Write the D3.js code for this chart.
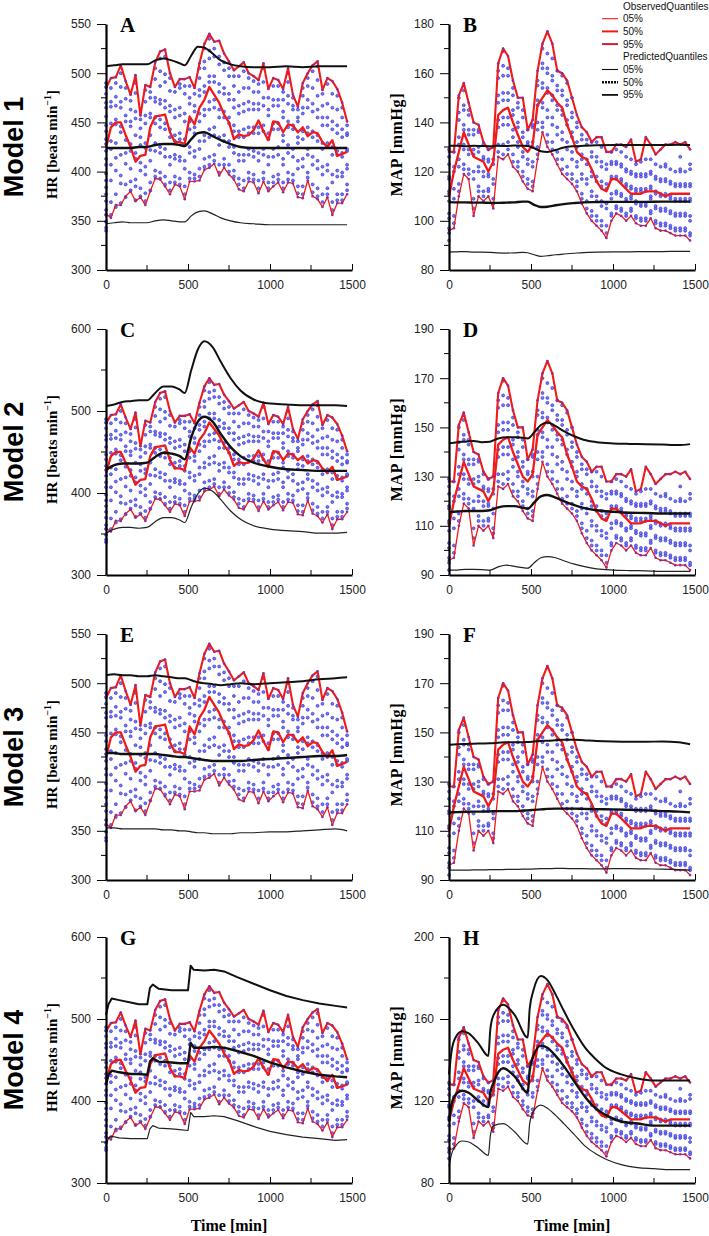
<!DOCTYPE html>
<html><head><meta charset="utf-8">
<script src="https://cdn.jsdelivr.net/npm/d3@7"></script>
<style>body{margin:0;background:#fff}svg{display:block}</style>
</head><body>
<script>
// ---------- DATA ----------
const obsTimes = [0,30,60,90,120,150,180,210,240,270,300,330,360,390,420,450,480,510,540,570,600,630,660,690,720,750,780,810,840,870,900,930,960,990,1020,1050,1080,1110,1140,1170,1200,1230,1260,1290,1320,1350,1380,1410,1440,1470];

const hrObs05 = [357,353,366,366,375,380,370,374,366,380,393,392,385,377,387,385,372,390,390,391,402,404,408,396,404,397,392,382,380,390,389,378,390,380,385,389,379,389,388,374,373,391,375,372,364,374,356,368,368,377];
const hrObs50 = [424,445,450,450,437,425,410,416,417,445,456,457,458,440,430,430,428,456,448,465,473,486,478,470,458,450,433,438,436,437,442,452,441,432,451,450,440,448,447,440,445,436,440,439,430,425,432,416,418,420];
const hrObs95 = [485,495,496,508,492,478,498,457,488,486,511,522,524,500,486,494,494,496,485,510,530,540,532,533,520,512,503,507,511,500,497,493,510,484,495,493,484,505,478,466,490,500,508,512,483,495,492,484,470,451];

const mapObs05 = [96,97,110,119,117,102,110,108,110,105,126,125,127,122,120,116,113,112,125,136,130,127,123,119,117,115,112,107,103,100,98,96,93,100,103,102,100,102,99,98,98,101,97,96,96,95,94,94,94,92];
const mapObs50 = [110,120,128,136,131,126,125,124,120,124,143,145,146,140,135,130,128,131,147,150,153,151,148,146,139,134,128,126,125,121,116,113,112,117,117,115,113,111,111,111,112,112,112,111,110,111,111,111,111,111];
const mapObs95 = [128,128,151,156,148,140,139,132,129,130,164,170,167,157,150,150,137,141,161,172,177,172,161,160,157,150,143,138,136,132,134,134,128,128,131,131,130,133,124,125,134,131,127,129,131,131,132,131,132,129];

const hrDots = [
 [340,343,349,356,361,370,377,384,391,398,407,413,421,428,433,441,447,456,465,470,479,486,490],
 [356,369,391,407,423,431,449,466,471,485],
 [364,377,401,414,429,448,453,467,476,490],
 [368,388,396,417,440,446,465,471,486,500],
 [374,387,408,419,432,451,457,474,485],
 [381,390,403,421,428,446,451,463,472],
 [371,385,392,413,419,437,454,461,480,490],
 [375,383,401,409,427,435,444,453],
 [370,378,397,405,424,429,449,457,471,483],
 [381,389,411,422,437,455,459,475,481],
 [395,401,421,429,449,455,471,475,494,505],
 [393,399,419,425,445,453,469,473,487,502,515],
 [387,395,415,423,443,449,465,472,491,499,517],
 [381,389,407,415,435,443,461,467,482,495],
 [389,395,413,417,431,437,455,463,481],
 [387,393,411,415,433,439,457,465,485,489],
 [377,385,403,411,427,433,451,459,479,487],
 [393,399,419,425,443,451,469,475,487],
 [393,397,415,421,439,445,461,467,479],
 [395,403,423,431,451,459,477,483,495,505],
 [405,413,431,437,457,463,481,487,505,512,525],
 [407,415,435,443,463,471,491,497,515,523,535],
 [411,417,437,445,465,473,491,497,517,525],
 [399,407,427,435,455,463,481,489,509,517],
 [407,413,431,437,455,461,479,485,503,511],
 [400,407,425,431,449,455,473,479,497,505],
 [395,401,419,425,441,447,465,473,487,497],
 [387,393,411,417,435,441,459,467,481,497],
 [383,391,411,417,435,443,461,469,485,502],
 [393,399,417,423,439,445,463,471,485,495],
 [392,397,415,421,439,445,463,469,481,492],
 [383,391,411,419,439,445,463,469,481,489],
 [393,399,417,423,441,447,467,475,491,505],
 [383,389,407,415,433,439,457,463,475],
 [389,395,415,423,443,449,467,473,487],
 [392,397,417,425,443,449,467,473,487],
 [383,389,407,413,431,437,455,461,473,481],
 [392,399,419,427,445,451,469,477,491,500],
 [391,397,415,423,443,447,463,467,475],
 [378,385,403,411,429,435,451,455,463],
 [377,385,405,413,433,441,459,465,477,485],
 [394,399,417,423,439,445,465,473,487,495],
 [379,387,407,415,435,441,461,469,485,502],
 [375,383,403,411,431,437,455,463,477,493,507],
 [369,377,397,405,423,429,447,455,467,479],
 [377,383,401,407,425,429,447,455,469,489],
 [361,369,389,397,417,425,443,451,465,479],
 [371,377,395,401,417,421,439,447,463,477],
 [371,377,395,399,415,419,435,443,455,465],
 [381,387,403,407,421,423,437,439,447]
];

const mapDots = [
 [92,95,97,101,103,108,111,112,117,118,123,126,129],
 [99,102,109,113,120,122,128],
 [112,115,122,125,131,134,141,144,150],
 [121,123,129,131,137,139,145,147,153],
 [119,121,127,129,135,137,143,145],
 [105,109,117,120,127,129,135,137],
 [112,114,120,122,128,130,136,137],
 [110,112,118,120,125,126,131],
 [112,113,118,119,124,125,129],
 [107,109,115,117,123,125,130],
 [128,131,138,141,148,151,158,161],
 [127,131,139,142,149,152,159,163,169],
 [129,132,139,142,149,152,159,162],
 [124,127,134,137,143,145,151,154],
 [122,124,130,132,138,140,146,148],
 [118,120,126,128,134,136,142,145],
 [115,117,123,125,131,132,137],
 [114,116,122,124,130,132,138,139],
 [127,130,137,140,147,149,155,157],
 [138,140,146,148,154,156,162,164,170],
 [132,135,142,145,152,154,160,162,168],
 [129,132,139,142,149,151,157,159,166],
 [125,128,135,138,145,147,153,155,161],
 [121,125,133,136,143,145,151,153,159],
 [119,122,129,132,139,141,147,149,156],
 [117,119,125,128,134,136,142,144,150],
 [114,116,122,124,130,132,138,140],
 [109,111,117,119,125,127,133,135],
 [105,108,115,117,123,125,131,133],
 [102,104,110,112,118,120,126,128,132],
 [100,102,108,110,116,118,124,126,132],
 [98,100,106,108,114,116,122,124,130],
 [95,98,105,107,113,115,121,123],
 [102,103,109,111,117,118,123,124,128],
 [105,106,111,112,117,118,123,124,129],
 [104,105,110,111,116,117,122,123,128],
 [102,103,108,109,114,115,120,121,126],
 [104,105,109,110,113,114,119,120,125],
 [101,102,107,108,112,113,118,119,123],
 [100,101,106,107,112,113,118,119,124],
 [100,101,106,107,112,113,118,119,125],
 [103,104,109,110,113,114,119,120,125],
 [99,100,105,106,111,112,117,118,123],
 [98,99,104,105,110,111,116,117,122],
 [98,99,104,105,110,111,116,117,122,123],
 [97,98,103,104,109,110,115,116,121],
 [96,97,102,103,108,109,114,115,120],
 [96,97,102,103,108,109,114,115,120,121,126],
 [96,97,102,103,108,109,114,115,120],
 [94,95,100,102,108,109,114,115,121,123]
];

// predicted quantiles (time grids)
const predTimes = [0,50,100,150,200,250,300,350,400,450,480,520,560,600,650,700,760,820,900,1000,1100,1200,1300,1400,1470];
const predTimesG = [0,15,35,80,150,200,252,268,285,320,400,450,500,516,535,600,660,720,800,900,1000,1100,1200,1300,1400,1470];
const predTimesH = [0,15,40,80,120,180,240,252,272,330,400,480,492,515,560,600,650,700,760,830,900,960,1050,1150,1250,1350,1470];

const predA05 = [347,348,349,348,348,348,350,351,350,349,349,355,359,360,357,353,350,348,347,346,346,346,346,346,346];
const predA50 = [424,424,424,424,425,425,427,428,428,427,426,433,439,440,436,432,428,425,424,424,424,424,424,424,424];
const predA95 = [507,508,509,509,509,509,513,515,513,510,508,518,527,526,520,513,509,507,506,506,507,506,507,507,507];

const predB05 = [87.3,87.4,87.5,87.3,87.3,87.2,87.0,86.9,87.0,87.2,87.0,86.2,85.5,85.8,86.2,86.5,86.8,87.1,87.3,87.4,87.4,87.5,87.5,87.6,87.6];
const predB50 = [107.6,107.5,107.5,107.4,107.4,107.3,107.3,107.4,107.5,107.8,107.8,106.5,105.6,105.7,106.3,106.8,107.2,107.5,107.6,107.7,107.7,107.7,107.8,107.8,107.8];
const predB95 = [130.5,130.5,130.3,130.5,130.4,130.3,130.5,130.4,130.6,130.5,130.4,129.5,128.3,128.0,128.8,129.8,130.3,130.5,130.7,130.8,130.8,130.8,130.8,130.9,130.8];

const predC05 = [351,356,358,358,357,358,365,370,370,367,364,383,399,406,402,392,378,368,360,356,354,353,351,351,352];
const predC50 = [428,434,436,436,436,437,444,449,448,445,441,468,487,493,487,472,456,445,437,432,429,428,427,427,427];
const predC95 = [506,508,511,512,513,513,522,530,530,526,522,550,575,585,578,560,540,525,514,509,508,507,507,507,506];

const predD05 = [92,92,92.3,92.3,92.2,92,93.3,94,93.5,93,92.8,95,97,97.5,97,95.8,94.5,93.5,92.5,92,91.8,91.7,91.5,91.5,91.5];
const predD50 = [115.5,115.8,116,116,116,116.3,117.5,118,118,117.3,117,119.5,122,122.5,121.5,120,118.5,117.3,116.3,115.7,115.3,115.2,115,115,115];
const predD95 = [143.5,144,144.2,144.5,144,144.2,145.5,146,146,145.8,145.5,148,151,152,150.5,148.5,146.5,145,144,143.5,143.3,143.2,143,142.8,143.2];

const predE05 = [353,353,352,352,352,352,352,351,351,350,350,349,348,348,347,347,347,348,348,349,349,350,351,352,350];
const predE50 = [429,429,428,428,428,428,428,427,426,425,425,424,423,422,421,421,421,421,422,423,424,425,426,426,427];
const predE95 = [508,509,508,508,507,507,508,507,506,505,505,503,501,500,499,498,499,500,499,500,501,502,504,505,506];

const predF05 = [94,94,94,94.1,94.1,94.2,94.2,94.3,94.3,94.4,94.4,94.5,94.6,94.6,94.7,94.7,94.6,94.6,94.5,94.6,94.6,94.5,94.4,94.2,94];
const predF50 = [117.5,117.6,117.7,117.8,117.8,117.9,118,118,118,118.2,118.3,118.5,118.7,118.9,119,119,119,118.9,118.8,118.7,118.5,118.3,118,117.8,117.5];
const predF95 = [145,145.2,145.3,145.4,145.5,145.6,145.8,146,146,146,146.1,146.3,146.5,146.6,146.8,147,147,146.8,146.5,146.3,146.2,146.2,146.3,146,145.2];

const predG05 = [345,355,357,355,354,354,354,366,370,367,366,365,364,386,381,381,382,381,376,369,363,359,356,354,352,353];
const predG50 = [420,432,437,435,433,433,432,448,452,448,447,446,446,471,465,465,466,465,461,455,447,441,436,432,430,429];
const predG95 = [505,518,525,523,520,518,518,538,542,537,535,535,535,565,560,559,560,558,551,543,535,528,523,519,516,514];

const predH05 = [88,94,98,100.5,100,97,93.5,103,108,109,105,99,109,115,118,116.5,113,109,104,98,94,91.5,89,87.5,87,86.5,86.5];
const predH50 = [110,118,123,125,124,120,117,124,129,136,132,124,135,142,147,146,142,137,130,122,116,113,110,109,108,108,108];
const predH95 = [133,144,151,154,153,148,142,155,162,167,162,151,165,174,181,179,172,164,155,146,140,136,133,131,130,130,130];

// tick labels
const xTicks = [0,500,1000,1500];
const xMinor = [250,750,1250];
const yTicksHR1 = [300,350,400,450,500,550], yMinorHR1 = [325,375,425,475,525];
const yTicksHR2 = [300,400,500,600], yMinorHR2 = [350,450,550];
const yTicksB = [80,100,120,140,160,180], yMinorB = [90,110,130,150,170];
const yTicksDF = [90,110,130,150,170,190], yMinorDF = [100,120,140,160,180];
const yTicksH = [80,120,160,200], yMinorH = [100,140,180];

const modelLabels = ["Model 1","Model 2","Model 3","Model 4"];
const legendObs = ["05%","50%","95%"];
const legendPred = ["05%","50%","95%"];

// ---------- LAYOUT ----------
const rowTops = [24, 329, 634, 937];
const plotH = 246, plotW = 246;
const colX = [106, 449];
const RED = "#f01a1a", MARK = "#86309a", BLK = "#111";
const wO = [1.3, 2.3, 2.1];
const wP = [1.2, 2.4, 2.0];

const panels = [
 {id:"A",kind:"HR", row:0,col:0,dom:[300,550],ticks:yTicksHR1,minor:yMinorHR1,pt:predTimes,p:[predA05,predA50,predA95],curve:d3.curveMonotoneX},
 {id:"B",kind:"MAP",row:0,col:1,dom:[80,180], ticks:yTicksB,  minor:yMinorB,  pt:predTimes,p:[predB05,predB50,predB95],curve:d3.curveMonotoneX},
 {id:"C",kind:"HR", row:1,col:0,dom:[300,600],ticks:yTicksHR2,minor:yMinorHR2,pt:predTimes,p:[predC05,predC50,predC95],curve:d3.curveMonotoneX},
 {id:"D",kind:"MAP",row:1,col:1,dom:[90,190], ticks:yTicksDF, minor:yMinorDF, pt:predTimes,p:[predD05,predD50,predD95],curve:d3.curveMonotoneX},
 {id:"E",kind:"HR", row:2,col:0,dom:[300,550],ticks:yTicksHR1,minor:yMinorHR1,pt:predTimes,p:[predE05,predE50,predE95],curve:d3.curveMonotoneX},
 {id:"F",kind:"MAP",row:2,col:1,dom:[90,190], ticks:yTicksDF, minor:yMinorDF, pt:predTimes,p:[predF05,predF50,predF95],curve:d3.curveMonotoneX},
 {id:"G",kind:"HR", row:3,col:0,dom:[300,600],ticks:yTicksHR2,minor:yMinorHR2,pt:predTimesG,p:[predG05,predG50,predG95],curve:d3.curveLinear},
 {id:"H",kind:"MAP",row:3,col:1,dom:[80,200], ticks:yTicksH,  minor:yMinorH,  pt:predTimesH,p:[predH05,predH50,predH95],curve:d3.curveMonotoneX}
];

const svg = d3.select("body").append("svg").attr("width",709).attr("height",1236)
  .style("font-family","'Liberation Sans', Arial, sans-serif");
svg.append("rect").attr("width",709).attr("height",1236).attr("fill","#fff");

const tickFont = "'Liberation Sans', Arial, sans-serif";
const serif = "'Liberation Serif','Times New Roman',serif";

panels.forEach(p => {
  const x0 = colX[p.col], y0 = rowTops[p.row];
  const x = d3.scaleLinear().domain([0,1500]).range([x0, x0+plotW]);
  const y = d3.scaleLinear().domain(p.dom).range([y0+plotH, y0]);
  const g = svg.append("g");
  const isHR = p.kind === "HR";
  const dots = isHR ? hrDots : mapDots;
  const q = isHR ? [hrObs05,hrObs50,hrObs95] : [mapObs05,mapObs50,mapObs95];

  // observations
  const pts = [];
  obsTimes.forEach((t,i) => dots[i].forEach(v => pts.push([t,v])));
  g.append("g").selectAll("circle").data(pts).join("circle")
    .attr("cx",d=>x(d[0])).attr("cy",d=>y(d[1])).attr("r",1.5)
    .attr("fill","#7878f2").attr("stroke","#2626d4").attr("stroke-width",0.6);

  // observed quantiles
  const lineO = d3.line().x((d,i)=>x(obsTimes[i])).y(d=>y(d));
  q.forEach((arr,k) => {
    g.append("path").datum(arr).attr("d",lineO).attr("fill","none")
      .attr("stroke",RED).attr("stroke-width",wO[k]).attr("stroke-linejoin","round");
    if (k !== 1) {
      g.append("g").selectAll("circle").data(arr).join("circle")
        .attr("cx",(d,i)=>x(obsTimes[i])).attr("cy",d=>y(d)).attr("r",1.3).attr("fill",MARK);
    }
  });

  // predicted quantiles
  const lineP = d3.line().x((d,i)=>x(p.pt[i])).y(d=>y(d)).curve(p.curve);
  p.p.forEach((arr,k) => {
    g.append("path").datum(arr).attr("d",lineP).attr("fill","none")
      .attr("stroke",k===0?"#222":BLK).attr("stroke-width",wP[k]).attr("stroke-linejoin","round");
  });

  // y axis
  const yAx = g.append("g").attr("transform",`translate(${x0},0)`)
    .call(d3.axisLeft(y).tickValues(p.ticks).tickSize(9).tickSizeOuter(0).tickPadding(6).tickFormat(d3.format("d")));
  yAx.append("g").selectAll("line").data(p.minor).join("line")
    .attr("x1",-5).attr("x2",0).attr("y1",d=>y(d)).attr("y2",d=>y(d)).attr("stroke","#000");
  // x axis
  const xAx = g.append("g").attr("transform",`translate(0,${y0+plotH})`)
    .call(d3.axisBottom(x).tickValues(xTicks).tickSize(-6).tickSizeOuter(0).tickPadding(10).tickFormat(d3.format("d")));
  xAx.append("g").selectAll("line").data(xMinor).join("line")
    .attr("x1",d=>x(d)).attr("x2",d=>x(d)).attr("y1",-5).attr("y2",0).attr("stroke","#000");
  [yAx,xAx].forEach(a => {
    a.select(".domain").attr("stroke","#000").attr("stroke-width",2.2);
    a.selectAll(".tick line").attr("stroke","#000");
    a.selectAll("text").attr("font-family",tickFont).attr("font-size",12).attr("fill","#222");
  });

  // panel letter
  g.append("text").attr("x",x0+14).attr("y",y0+8).text(p.id)
    .attr("font-family",serif).attr("font-weight","bold").attr("font-size",21);

  // y label
  const yc = y0 + plotH*0.49;
  if (isHR) {
    const t = g.append("text").attr("transform",`translate(${x0-49},${yc}) rotate(-90)`)
      .attr("text-anchor","middle").attr("font-family",serif).attr("font-weight","bold").attr("font-size",15);
    t.append("tspan").text("HR [beats min");
    t.append("tspan").text("\u22121").attr("font-size",10).attr("dy",-6);
    t.append("tspan").text("]").attr("dy",6);
  } else {
    g.append("text").attr("transform",`translate(${x0-47},${yc}) rotate(-90)`)
      .attr("text-anchor","middle").attr("font-family",serif).attr("font-weight","bold")
      .attr("font-size",16).attr("letter-spacing",0.6).text("MAP [mmHg]");
  }
  if (p.row === 3) {
    g.append("text").attr("x",x0+plotW/2).attr("y",y0+plotH+48).attr("text-anchor","middle")
      .attr("font-family",serif).attr("font-weight","bold").attr("font-size",16).text("Time [min]");
  }
});

// model labels
modelLabels.forEach((m,i) => {
  svg.append("text").attr("transform",`translate(23,${rowTops[i]+123}) rotate(-90)`)
    .attr("text-anchor","middle").attr("font-weight","bold").attr("font-size",27)
    .attr("font-family","'Liberation Sans', Arial, sans-serif").text(m);
});

// legend
const lg = svg.append("g").attr("font-family","'Liberation Sans', Arial, sans-serif").attr("font-size",10).attr("fill","#111");
const ly0 = 6, lstep = 12.7, lx = 602, tx = 623;
lg.append("text").attr("x",tx).attr("y",ly0+3.5).text("ObservedQuantiles");
legendObs.forEach((s,k) => {
  const yy = ly0 + lstep*(k+1);
  lg.append("line").attr("x1",lx).attr("x2",lx+16).attr("y1",yy).attr("y2",yy)
    .attr("stroke",RED).attr("stroke-width",[1.1,2.0,2.0][k]);
  if (k===2) [lx+2,lx+5,lx+8,lx+11,lx+14].forEach(cx => lg.append("circle").attr("cx",cx).attr("cy",yy).attr("r",0.8).attr("fill",MARK));
  lg.append("text").attr("x",tx).attr("y",yy+3.5).text(s);
});
lg.append("text").attr("x",tx).attr("y",ly0+lstep*4+3.5).text("PredictedQuantiles");
legendPred.forEach((s,k) => {
  const yy = ly0 + lstep*(k+5);
  lg.append("line").attr("x1",lx).attr("x2",lx+16).attr("y1",yy).attr("y2",yy)
    .attr("stroke",BLK).attr("stroke-width",[1.1,2.4,1.8][k]).attr("stroke-dasharray",k===1?"2,1":null);
  lg.append("text").attr("x",tx).attr("y",yy+3.5).text(s);
});
</script>
</body></html>
